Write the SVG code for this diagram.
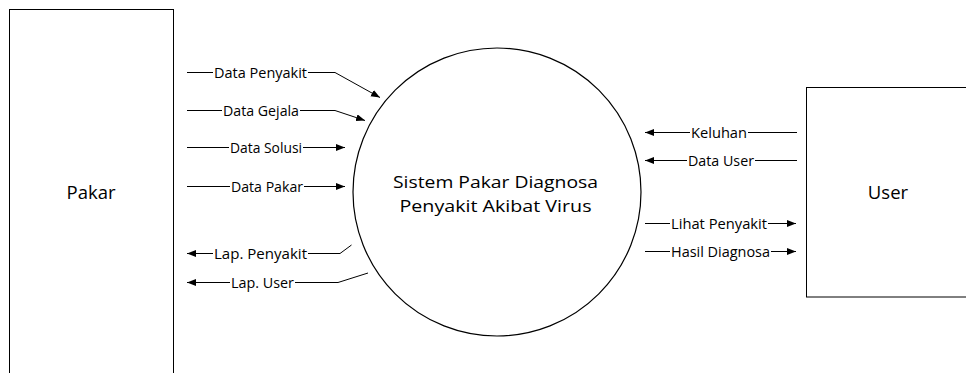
<svg xmlns="http://www.w3.org/2000/svg" width="966" height="373" viewBox="0 0 966 373">
  <style>
    .box { fill: #ffffff; stroke: #000000; stroke-width: 1; }
    .proc { fill: #ffffff; stroke: #000000; stroke-width: 1.2; }
    .flow { fill: none; stroke: #000000; stroke-width: 1; }
    .lbl { font-family: "Open Sans", "Liberation Sans", sans-serif; font-size: 14px; fill: #000000; text-anchor: middle; }
    .title { font-family: "Open Sans", "Liberation Sans", sans-serif; font-size: 18.5px; fill: #000000; text-anchor: middle; }
    .ptext { font-family: "Open Sans", "Liberation Sans", sans-serif; font-size: 17px; fill: #000000; text-anchor: middle; }
  </style>
  <defs>
    <marker id="arrow" markerUnits="userSpaceOnUse" markerWidth="10" markerHeight="8" refX="9" refY="3.5" orient="auto">
      <path d="M0,0 L9,3.5 L0,7 z" fill="#000000"/>
    </marker>
  </defs>
  <rect width="966" height="373" fill="#ffffff"/>

  <!-- External entity: Pakar -->
  <g id="pakar">
    <rect class="box" x="9.5" y="9.5" width="164" height="380"/>
    <text class="title" x="91" y="199">Pakar</text>
  </g>

  <!-- Process -->
  <g id="sistem">
    <circle class="proc" cx="497" cy="192" r="144"/>
    <text class="ptext" x="495.5" y="188" textLength="205" lengthAdjust="spacingAndGlyphs">Sistem Pakar Diagnosa</text>
    <text class="ptext" x="495.5" y="211.5" textLength="192" lengthAdjust="spacingAndGlyphs">Penyakit Akibat Virus</text>
  </g>

  <!-- External entity: User -->
  <g id="user">
    <rect class="box" x="806.5" y="87.5" width="180" height="209.5"/>
    <text class="title" x="888" y="199">User</text>
  </g>

  <!-- Data flows -->
  <g id="connectors">
    <path class="flow" d="M187 72.5 H213 M308 72.5 H335 L380 97.5" marker-end="url(#arrow)"/>
    <path class="flow" d="M187 110.5 H222 M300 110.5 H335 L365 120.5" marker-end="url(#arrow)"/>
    <path class="flow" d="M187 147.5 H229 M303 147.5 H345" marker-end="url(#arrow)"/>
    <path class="flow" d="M187 186.5 H230 M304 186.5 H345" marker-end="url(#arrow)"/>
    <path class="flow" d="M351.5 245 L340 253.5 H308 M213 253.5 H187" marker-end="url(#arrow)"/>
    <path class="flow" d="M368 273 L338 282.5 H295 M230 282.5 H187" marker-end="url(#arrow)"/>
    <path class="flow" d="M797 132.5 H748 M690 132.5 H645" marker-end="url(#arrow)"/>
    <path class="flow" d="M797 160.5 H755 M687 160.5 H645" marker-end="url(#arrow)"/>
    <path class="flow" d="M645 223.5 H670 M768 223.5 H796" marker-end="url(#arrow)"/>
    <path class="flow" d="M645 251.5 H670 M771 251.5 H796" marker-end="url(#arrow)"/>

    <text class="lbl" x="260.5" y="77.5" textLength="93" lengthAdjust="spacingAndGlyphs">Data Penyakit</text>
    <text class="lbl" x="261" y="115.5" textLength="76" lengthAdjust="spacingAndGlyphs">Data Gejala</text>
    <text class="lbl" x="266" y="152.5" textLength="72" lengthAdjust="spacingAndGlyphs">Data Solusi</text>
    <text class="lbl" x="267" y="191.5" textLength="72" lengthAdjust="spacingAndGlyphs">Data Pakar</text>
    <text class="lbl" x="260.5" y="258.5" textLength="93" lengthAdjust="spacingAndGlyphs">Lap. Penyakit</text>
    <text class="lbl" x="262.5" y="287.5" textLength="63" lengthAdjust="spacingAndGlyphs">Lap. User</text>
    <text class="lbl" x="719" y="137.5" textLength="56" lengthAdjust="spacingAndGlyphs">Keluhan</text>
    <text class="lbl" x="721" y="165.5" textLength="66" lengthAdjust="spacingAndGlyphs">Data User</text>
    <text class="lbl" x="719" y="228.5" textLength="96" lengthAdjust="spacingAndGlyphs">Lihat Penyakit</text>
    <text class="lbl" x="720.5" y="256.5" textLength="99" lengthAdjust="spacingAndGlyphs">Hasil Diagnosa</text>
  </g>
</svg>
